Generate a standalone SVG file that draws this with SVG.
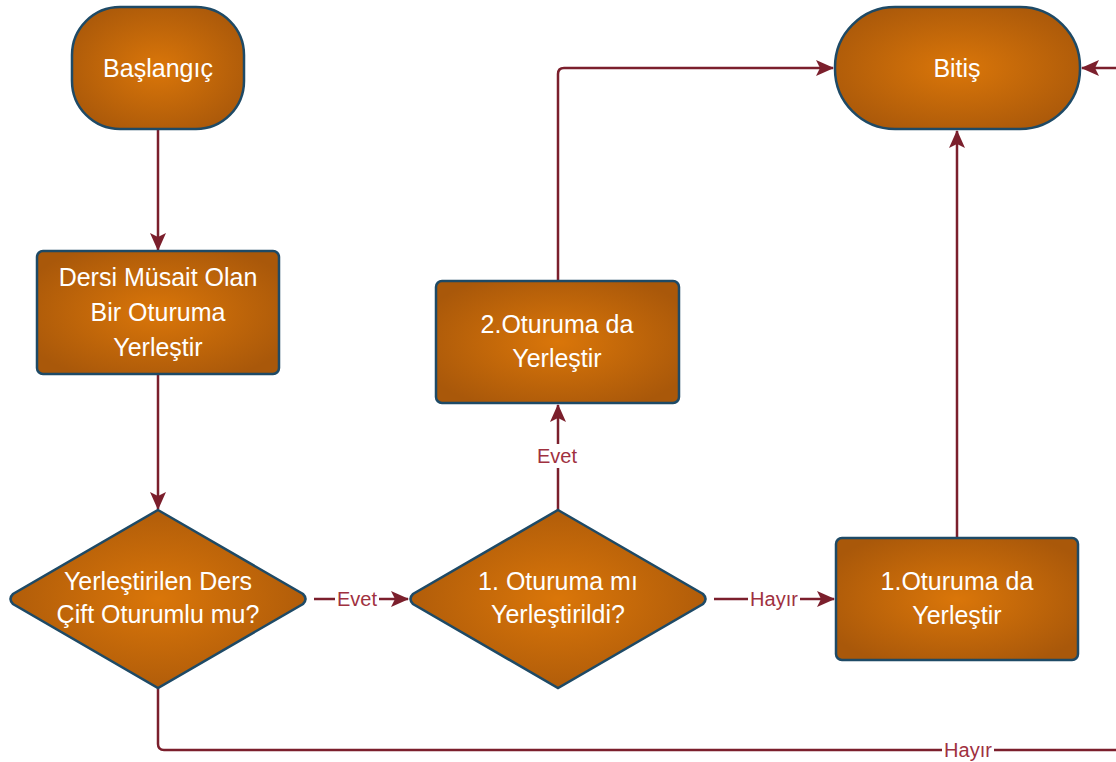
<svg xmlns="http://www.w3.org/2000/svg" width="1116" height="762" viewBox="0 0 1116 762">
<defs>
<radialGradient id="g" cx="50%" cy="50%" r="60%">
<stop offset="0" stop-color="#DA7609"/>
<stop offset="1" stop-color="#A9580A"/>
</radialGradient>
<marker id="ah" markerWidth="18" markerHeight="16" refX="17" refY="8" orient="auto" markerUnits="userSpaceOnUse">
<path d="M0,0 L18,8 L0,16 L4,8 Z" fill="#7B1F2C"/>
</marker>
<style>
.n{fill:url(#g);stroke:#1E4A66;stroke-width:2.5}
.t{font-family:"Liberation Sans",Arial,sans-serif;font-size:25px;fill:#fff;text-anchor:middle}
.c{fill:none;stroke:#7B1F2C;stroke-width:2.5;marker-end:url(#ah)}
.c2{fill:none;stroke:#7B1F2C;stroke-width:2.5}
.l{font-family:"Liberation Sans",Arial,sans-serif;font-size:20px;fill:#A0313F;text-anchor:middle}
.lb{fill:#fff}
</style>
</defs>
<rect width="1116" height="762" fill="#fff"/>
<g id="connectors">
<path class="c" d="M158,129 V250"/>
<path class="c" d="M158,374 V509"/>
<path class="c" d="M314,599 H408"/>
<path class="c" d="M714,599 H834"/>
<path class="c" d="M558,510 V405"/>
<path class="c" d="M558,281 V74 Q558,68 564,68 H833"/>
<path class="c" d="M957,538 V131"/>
<path class="c2" d="M158,688 V744 Q158,750 164,750 H1130"/>
<path class="c" d="M1130,68 H1082"/>
<rect class="lb" x="335" y="588" width="44" height="22"/>
<text class="l" x="357" y="606">Evet</text>
<rect class="lb" x="748" y="588" width="52" height="22"/>
<text class="l" x="774" y="606">Hayır</text>
<rect class="lb" x="535" y="444" width="46" height="24"/>
<text class="l" x="557" y="463">Evet</text>
<rect class="lb" x="942" y="739" width="52" height="22"/>
<text class="l" x="968" y="757">Hayır</text>
</g>
<g id="start">
<rect class="n" x="72" y="7" width="172" height="122" rx="48"/>
<text class="t" x="158" y="77">Başlangıç</text>
</g>
<g id="end">
<rect class="n" x="835" y="7" width="245" height="122" rx="60"/>
<text class="t" x="957" y="77">Bitiş</text>
</g>
<g id="place">
<rect class="n" x="37" y="251" width="242" height="123" rx="6"/>
<text class="t" x="158" y="286">Dersi Müsait Olan</text>
<text class="t" x="158" y="321">Bir Oturuma</text>
<text class="t" x="158" y="356">Yerleştir</text>
</g>
<g id="decision1">
<path class="n" d="M158,510 L303,594 Q308,599 303,604 L158,688 L13,604 Q8,599 13,594 Z"/>
<text class="t" x="158" y="590">Yerleştirilen Ders</text>
<text class="t" x="158" y="623">Çift Oturumlu mu?</text>
</g>
<g id="decision2">
<path class="n" d="M558,510 L703,594 Q708,599 703,604 L558,688 L413,604 Q408,599 413,594 Z"/>
<text class="t" x="558" y="590">1. Oturuma mı</text>
<text class="t" x="558" y="623">Yerleştirildi?</text>
</g>
<g id="place2">
<rect class="n" x="436" y="281" width="243" height="122" rx="6"/>
<text class="t" x="557" y="333">2.Oturuma da</text>
<text class="t" x="557" y="367">Yerleştir</text>
</g>
<g id="place1">
<rect class="n" x="836" y="538" width="242" height="122" rx="6"/>
<text class="t" x="957" y="590">1.Oturuma da</text>
<text class="t" x="957" y="624">Yerleştir</text>
</g>
</svg>
